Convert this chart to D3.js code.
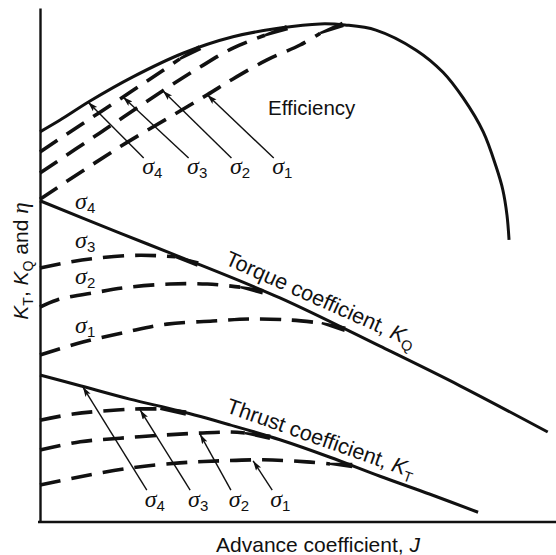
<!DOCTYPE html>
<html><head><meta charset="utf-8">
<script src="https://cdn.jsdelivr.net/npm/d3@7"></script>
<style>body{margin:0;background:#fff} svg{display:block}</style>
</head><body>
<svg id="c" width="556" height="555"></svg>
<script>
// ---- Data (J and coefficient values, in % of axis span) ----
// Efficiency
const effJ_s4 = [0, 3.9, 9.7, 18.0, 27.7, 37.4, 46.5, 54.3, 59.1, 65.1, 72.9, 78.1, 82.0, 85.9, 88.4, 89.7, 90.5, 90.9];
const eff_s4  = [75.9, 78.2, 81.9, 86.6, 91.2, 94.4, 96.1, 96.9, 96.7, 95.7, 91.8, 87.5, 82.5, 75.9, 69.1, 64.6, 59.7, 54.9];
const effJ_s3 = [0, 7.8, 16.1, 23.3, 27.1, 31.0];
const eff_s3  = [72.0, 77.2, 82.7, 87.5, 90.1, 92.3];
const effJ_s2 = [0, 11.6, 23.8, 31.0, 37.4, 43.6, 47.9];
const eff_s2  = [67.9, 75.7, 83.9, 88.5, 92.2, 94.7, 96.2];
const effJ_s1 = [0, 15.5, 25.2, 32.4, 37.4, 44.0, 50.4, 54.3, 58.7];
const eff_s1  = [62.8, 73.0, 78.8, 83.1, 86.2, 89.9, 92.8, 95.1, 96.8];
// Torque coefficient KQ
const kqJ_s4 = [0, 15.5, 27.1, 46.5, 65.9, 81.4, 98.4];
const kq_s4  = [62.5, 56.2, 51.6, 43.6, 34.2, 26.5, 17.5];
const kqJ_s3 = [0, 5.8, 11.6, 19.4, 26.2, 30.6];
const kq_s3  = [49.4, 50.6, 51.4, 51.9, 51.6, 50.2];
const kqJ_s2 = [0, 3.3, 11.0, 17.4, 25.2, 32.4, 38.8, 43.2];
const kq_s2  = [41.8, 43.2, 44.7, 45.7, 46.3, 46.3, 45.7, 44.8];
const kqJ_s1 = [0, 8.3, 16.9, 24.6, 33.5, 40.7, 48.4, 54.6, 59.1];
const kq_s1  = [32.5, 35.0, 37.0, 38.5, 39.1, 39.5, 39.3, 38.7, 37.5];
// Thrust coefficient KT
const ktJ_s4 = [0, 7.8, 17.4, 27.1, 36.8, 46.5, 56.2, 65.9, 75.6, 84.9];
const kt_s4  = [28.6, 26.5, 23.9, 21.6, 18.9, 16.0, 12.6, 8.9, 5.4, 1.9];
const ktJ_s3 = [0, 6.4, 14.9, 19.4, 23.3, 28.3];
const kt_s3  = [19.8, 21.0, 21.8, 22.0, 22.0, 21.2];
const ktJ_s2 = [0, 7.8, 15.5, 23.8, 31.0, 36.8, 39.7, 44.6];
const kt_s2  = [14.0, 15.6, 16.3, 16.9, 17.3, 17.5, 17.3, 16.5];
const ktJ_s1 = [0, 7.8, 17.4, 27.1, 34.9, 43.2, 51.7, 56.2, 60.5];
const kt_s1  = [7.2, 8.8, 10.5, 11.5, 11.9, 12.1, 11.7, 11.3, 11.0];
// Series labels
const sigmaNames = ["4", "3", "2", "1"];

// ---- Layout ----
const svg = d3.select("#c");
const x = d3.scaleLinear().domain([0, 100]).range([40, 556]);
const y = d3.scaleLinear().domain([0, 100]).range([522, 8]);
const zip = (a, b) => a.map((v, i) => [v, b[i]]);
const line = d3.line().x(d => x(d[0])).y(d => y(d[1])).curve(d3.curveCatmullRom.alpha(0.5));

svg.append("defs").append("marker")
  .attr("id", "ah").attr("markerUnits", "userSpaceOnUse")
  .attr("markerWidth", 12).attr("markerHeight", 10)
  .attr("refX", 10).attr("refY", 3).attr("orient", "auto")
  .append("path").attr("d", "M0,0 L10,3 L0,6 L2,3 Z").attr("fill", "#111");

// axes
const gx = svg.append("g").attr("transform", `translate(0,${y(0)})`)
  .call(d3.axisBottom(x).tickValues([]).tickSizeOuter(0));
gx.select(".domain").attr("stroke", "#111").attr("stroke-width", 2.6).attr("d", `M${x(0)-2},0H556`);
const gy = svg.append("g").attr("transform", `translate(${x(0)},0)`)
  .call(d3.axisLeft(y).tickValues([]).tickSizeOuter(0));
gy.select(".domain").attr("stroke", "#111").attr("stroke-width", 2.4);

// solid curves
[[effJ_s4, eff_s4], [kqJ_s4, kq_s4], [ktJ_s4, kt_s4]].forEach(([a, b]) => {
  svg.append("path").attr("d", line(zip(a, b))).attr("fill", "none")
    .attr("stroke", "#111").attr("stroke-width", 3);
});

// dashed curves with merging wedge
const dashed = [
  [effJ_s3, eff_s3], [effJ_s2, eff_s2], [effJ_s1, eff_s1],
  [kqJ_s3, kq_s3], [kqJ_s2, kq_s2], [kqJ_s1, kq_s1],
  [ktJ_s3, kt_s3], [ktJ_s2, kt_s2], [ktJ_s1, kt_s1]
];
dashed.forEach(([a, b]) => {
  const pts = zip(a, b);
  svg.append("path").attr("d", line(pts.slice(0, -1))).attr("fill", "none")
    .attr("stroke", "#111").attr("stroke-width", 3.6).attr("stroke-dasharray", "21,11");
  const A = pts[pts.length - 2], B = pts[pts.length - 1];
  const ax = x(A[0]), ay = y(A[1]), bx = x(B[0]), by = y(B[1]);
  const L = Math.hypot(bx - ax, by - ay), nx = -(by - ay) / L, ny = (bx - ax) / L;
  const poly = [[ax + nx * 1.2, ay + ny * 1.2], [bx + nx * 2.8, by + ny * 2.8],
                [bx - nx * 2.8, by - ny * 2.8], [ax - nx * 1.2, ay - ny * 1.2]];
  svg.append("path").attr("d", "M" + poly.map(p => p.join(",")).join("L") + "Z").attr("fill", "#111");
});

// sigma labels helper
function sigma(px, py, n) {
  const t = svg.append("text").attr("x", px).attr("y", py).attr("fill", "#111");
  t.append("tspan").attr("font-family", "'Liberation Serif', serif").attr("font-style", "italic")
    .attr("font-size", 24).text("σ");
  t.append("tspan").attr("font-family", "'Liberation Sans', Arial, sans-serif")
    .attr("font-size", 15).attr("dy", 4).text(n);
}
function arrow(x1, y1, x2, y2) {
  svg.append("line").attr("x1", x(x1)).attr("y1", y(y1)).attr("x2", x(x2)).attr("y2", y(y2))
    .attr("stroke", "#111").attr("stroke-width", 1.4).attr("marker-end", "url(#ah)");
}

// Efficiency annotations
const effLabJ = [19.8, 28.5, 36.8, 45.0];
const effTip = [[9.3, 81.7], [16.1, 82.7], [23.8, 83.9], [32.4, 83.1]];
sigmaNames.forEach((n, i) => {
  sigma(x(effLabJ[i]), y(67.7), n);
  arrow(effLabJ[i] + 0.3, 70.8, effTip[i][0], effTip[i][1]);
});
// Torque labels
const kqLabV = [60.9, 53.3, 46.3, 36.8];
sigmaNames.forEach((n, i) => sigma(x(6.8), y(kqLabV[i]), n));
// Thrust annotations
const ktLabJ = [20.3, 28.7, 36.6, 44.6];
const ktTip = [[8.3, 26.3], [19.4, 21.8], [31.0, 17.1], [41.3, 11.9]];
sigmaNames.forEach((n, i) => {
  sigma(x(ktLabJ[i]), y(2.9), n);
  arrow(ktLabJ[i] + 0.4, 6.2, ktTip[i][0], ktTip[i][1]);
});

const sans = "'Liberation Sans', Arial, sans-serif";
svg.append("text").attr("x", 268).attr("y", 115).attr("font-family", sans)
  .attr("font-size", 20.5).attr("fill", "#111").text("Efficiency");

function coefLabel(px, py, ang, word, sub) {
  const t = svg.append("text").attr("transform", `translate(${px},${py}) rotate(${ang})`)
    .attr("font-family", sans).attr("font-size", 21.5).attr("fill", "#111");
  t.append("tspan").text(word + " coefficient, ");
  t.append("tspan").attr("font-style", "italic").text("K");
  t.append("tspan").attr("font-size", 14.5).attr("dy", 5).text(sub);
}
coefLabel(224, 264, 24, "Torque", "Q");
coefLabel(225, 412, 19.5, "Thrust", "T");

// axis titles
const xt = svg.append("text").attr("x", 318).attr("y", 552).attr("text-anchor", "middle")
  .attr("font-family", sans).attr("font-size", 21).attr("fill", "#111");
xt.append("tspan").text("Advance coefficient, ");
xt.append("tspan").attr("font-style", "italic").text("J");

const yt = svg.append("text").attr("transform", "translate(28,261) rotate(-90)").attr("text-anchor", "middle")
  .attr("font-family", sans).attr("font-size", 21).attr("fill", "#111");
yt.append("tspan").attr("font-style", "italic").text("K");
yt.append("tspan").attr("font-size", 14).attr("dy", 5).text("T");
yt.append("tspan").attr("dy", -5).text(", ");
yt.append("tspan").attr("font-style", "italic").text("K");
yt.append("tspan").attr("font-size", 14).attr("dy", 5).text("Q");
yt.append("tspan").attr("dy", -5).text(" and ");
yt.append("tspan").attr("font-family", "'Liberation Serif', serif").attr("font-style", "italic").attr("font-size", 23).text("η");
</script>
</body></html>
